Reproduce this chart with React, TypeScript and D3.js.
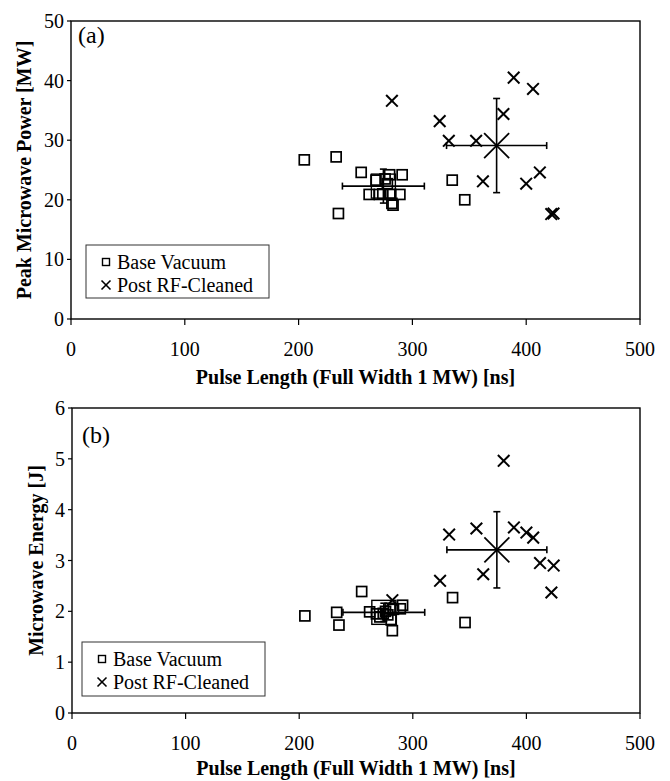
import * as d3 from "d3";

// pulse length [ns] is shared by both panels (same shots)
const basePulse = [205, 233, 235, 255, 262, 268, 271, 274, 276, 278, 280, 281, 282, 283, 289, 291, 335, 346];
const basePower = [26.7, 27.2, 17.7, 24.6, 20.9, 23.3, 20.9, 21.0, 23.5, 22.7, 24.2, 20.9, 19.4, 19.1, 20.9, 24.2, 23.3, 20.0];
const baseEnergy = [1.91, 1.98, 1.73, 2.39, 1.99, 1.95, 1.89, 1.96, 2.0, 1.93, 2.06, 1.83, 1.62, 2.04, 2.05, 2.12, 2.27, 1.78];

const postPulse = [282, 324, 332, 356, 362, 380, 389, 400, 406, 412, 422, 424];
const postPower = [36.6, 33.2, 29.9, 29.9, 23.1, 34.4, 40.5, 22.7, 38.6, 24.6, 17.6, 17.7];
const postEnergy = [2.22, 2.6, 3.51, 3.63, 2.73, 4.96, 3.65, 3.55, 3.45, 2.95, 2.37, 2.9];

// mean and std dev: [pulse, power, energy]
const baseMean = [274.5, 22.3, 1.98];
const baseSd = [36, 2.85, 0.18];
const postMean = [374, 29.1, 3.21];
const postSd = [44, 7.9, 0.75];

const xTicks = [0, 100, 200, 300, 400, 500];
const powerTicks = [0, 10, 20, 30, 40, 50];
const energyTicks = [0, 1, 2, 3, 4, 5, 6];
const legendLabels = ["Base Vacuum", "Post RF-Cleaned"];

const FONT = "'Liberation Serif', 'Times New Roman', serif";

const Cross = ({ cx, cy, r, w }) => (
  <g stroke="#000" strokeWidth={w} fill="none">
    <line x1={cx - r} y1={cy - r} x2={cx + r} y2={cy + r} />
    <line x1={cx - r} y1={cy + r} x2={cx + r} y2={cy - r} />
  </g>
);

const Square = ({ cx, cy, s, w }) => (
  <rect x={cx - s / 2} y={cy - s / 2} width={s} height={s} fill="none" stroke="#000" strokeWidth={w} />
);

const ErrorCross = ({ x, y, mx, my, sx, sy }) => {
  const cap = 3.5;
  const x0 = x(mx - sx), x1 = x(mx + sx);
  const y0 = y(my - sy), y1 = y(my + sy);
  const cx = x(mx), cy = y(my);
  return (
    <g stroke="#000" strokeWidth={1.6}>
      <line x1={x0} y1={cy} x2={x1} y2={cy} />
      <line x1={x0} y1={cy - cap} x2={x0} y2={cy + cap} />
      <line x1={x1} y1={cy - cap} x2={x1} y2={cy + cap} />
      <line x1={cx} y1={y0} x2={cx} y2={y1} />
      <line x1={cx - cap} y1={y0} x2={cx + cap} y2={y0} />
      <line x1={cx - cap} y1={y1} x2={cx + cap} y2={y1} />
    </g>
  );
};

const Panel = ({ box, yTicks, baseY, postY, idx, yTitle, label, labelPos, legend, yTitleX, xTitleY }) => {
  const x = d3.scaleLinear().domain([0, 500]).range([box.left, box.right]);
  const y = d3
    .scaleLinear()
    .domain([0, yTicks[yTicks.length - 1]])
    .range([box.bottom, box.top]);
  const midY = (box.top + box.bottom) / 2;

  return (
    <g fontFamily={FONT}>
      {/* frame */}
      <rect
        x={box.left}
        y={box.top}
        width={box.right - box.left}
        height={box.bottom - box.top}
        fill="none"
        stroke="#000"
        strokeWidth={1.4}
      />
      {yTicks.map((t) => (
        <g key={"y" + t}>
          <line x1={box.left - 4} x2={box.left} y1={y(t)} y2={y(t)} stroke="#000" strokeWidth={1.2} />
          <text x={box.left - 7} y={y(t)} dy="0.35em" textAnchor="end" fontSize={20}>
            {t}
          </text>
        </g>
      ))}
      {xTicks.map((t) => (
        <g key={"x" + t}>
          <line x1={x(t)} x2={x(t)} y1={box.bottom} y2={box.bottom + 6} stroke="#000" strokeWidth={1.2} />
          <text x={x(t)} y={box.bottom + 30} dy="0.35em" textAnchor="middle" fontSize={20}>
            {t}
          </text>
        </g>
      ))}
      <text
        x={(box.left + box.right) / 2}
        y={xTitleY}
        dy="0.35em"
        textAnchor="middle"
        fontSize={20}
        fontWeight="bold"
      >
        Pulse Length (Full Width 1 MW) [ns]
      </text>
      <text
        transform={`translate(${yTitleX},${midY}) rotate(-90)`}
        dy="0.35em"
        textAnchor="middle"
        fontSize={20}
        fontWeight="bold"
      >
        {yTitle}
      </text>
      <text x={labelPos[0]} y={labelPos[1]} fontSize={24}>
        {label}
      </text>

      {basePulse.map((p, i) => (
        <Square key={"b" + i} cx={x(p)} cy={y(baseY[i])} s={10} w={1.7} />
      ))}
      {postPulse.map((p, i) => (
        <Cross key={"p" + i} cx={x(p)} cy={y(postY[i])} r={5.8} w={2} />
      ))}

      <ErrorCross x={x} y={y} mx={baseMean[0]} my={baseMean[idx]} sx={baseSd[0]} sy={baseSd[idx]} />
      <Square cx={x(baseMean[0])} cy={y(baseMean[idx])} s={24} w={1.4} />
      <ErrorCross x={x} y={y} mx={postMean[0]} my={postMean[idx]} sx={postSd[0]} sy={postSd[idx]} />
      <Cross cx={x(postMean[0])} cy={y(postMean[idx])} r={12.5} w={1.8} />

      {/* legend */}
      <rect x={legend.x} y={legend.y} width={legend.w} height={legend.h} fill="#fff" stroke="#333" strokeWidth={1} />
      <Square cx={legend.x + 20} cy={legend.y + 17} s={7} w={1.4} />
      <text x={legend.x + 31} y={legend.y + 17} dy="0.35em" fontSize={20}>
        {legendLabels[0]}
      </text>
      <Cross cx={legend.x + 20} cy={legend.y + 40} r={4.5} w={1.6} />
      <text x={legend.x + 31} y={legend.y + 40} dy="0.35em" fontSize={20}>
        {legendLabels[1]}
      </text>
    </g>
  );
};

export default function App() {
  return (
    <svg width={670} height={781} style={{ position: "absolute", left: 0, top: 0, background: "#fff" }}>
      <Panel
        box={{ left: 71, right: 640, top: 21, bottom: 319 }}
        yTicks={powerTicks}
        baseY={basePower}
        postY={postPower}
        idx={1}
        yTitle="Peak Microwave Power [MW]"
        label="(a)"
        labelPos={[78, 43]}
        legend={{ x: 86, y: 245, w: 183, h: 53 }}
        yTitleX={24}
        xTitleY={377}
      />
      <Panel
        box={{ left: 72, right: 640, top: 408, bottom: 713 }}
        yTicks={energyTicks}
        baseY={baseEnergy}
        postY={postEnergy}
        idx={2}
        yTitle="Microwave Energy [J]"
        label="(b)"
        labelPos={[82, 443]}
        legend={{ x: 82, y: 642, w: 183, h: 54 }}
        yTitleX={36}
        xTitleY={768}
      />
    </svg>
  );
}
